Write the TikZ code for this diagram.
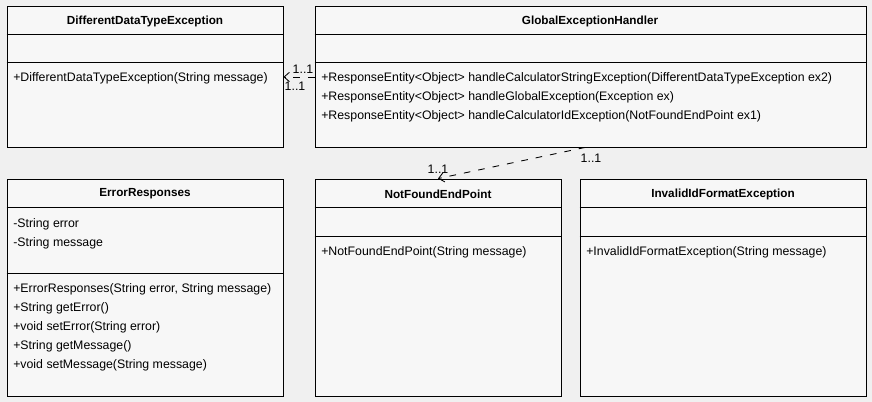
\documentclass[tikz,border=0pt]{standalone}
\usepackage{fontspec}
\setmainfont{Liberation Sans}
\usetikzlibrary{arrows.meta,fit}
\definecolor{bgc}{HTML}{F0F0F0}
\definecolor{boxc}{HTML}{F7F7F7}
\tikzset{
  classbox/.style={draw=black, fill=boxc, line width=0.65pt, inner sep=0pt},
  sepline/.style={draw=black, line width=0.65pt},
  ctitle/.style={font=\fontsize{8.8}{10}\selectfont\bfseries, inner sep=0pt},
  member/.style={font=\fontsize{9.25}{11}\selectfont, anchor=west, inner sep=0pt},
  mult/.style={font=\fontsize{9.25}{11}\selectfont, inner sep=0pt},
  dep/.style={draw=black, line width=0.65pt, dash pattern=on 5pt off 6pt, -{Straight Barb[length=4pt,width=7pt]}}
}
\begin{document}
\begin{tikzpicture}[x=0.75pt,y=-0.75pt]
\fill[bgc] (0,0) rectangle (872,402);
\useasboundingbox (0,0) rectangle (872,402);

% DifferentDataTypeException
\node[classbox, fit={(7,6) (283,147)}] (dd) {};
\draw[sepline] (dd.west |- 0,34) -- (dd.east |- 0,34);
\draw[sepline] (dd.west |- 0,62) -- (dd.east |- 0,62);
\node[ctitle] (ddt) at (145,21) {DifferentDataTypeException};
\node[member] (ddm1) at (13,78) {+DifferentDataTypeException(String message)};

% GlobalExceptionHandler
\node[classbox, fit={(315,6) (866,147)}] (gh) {};
\draw[sepline] (gh.west |- 0,34) -- (gh.east |- 0,34);
\draw[sepline] (gh.west |- 0,62) -- (gh.east |- 0,62);
\node[ctitle] (ght) at (590,21) {GlobalExceptionHandler};
\node[member] (ghm1) at (321,78) {+ResponseEntity<Object> handleCalculatorStringException(DifferentDataTypeException ex2)};
\node[member] (ghm2) at (321,97) {+ResponseEntity<Object> handleGlobalException(Exception ex)};
\node[member] (ghm3) at (321,116) {+ResponseEntity<Object> handleCalculatorIdException(NotFoundEndPoint ex1)};

% ErrorResponses
\node[classbox, fit={(7,179) (283,396)}] (er) {};
\draw[sepline] (er.west |- 0,207) -- (er.east |- 0,207);
\draw[sepline] (er.west |- 0,273) -- (er.east |- 0,273);
\node[ctitle] (ert) at (145,194) {ErrorResponses};
\node[member] (era1) at (13,224) {-String error};
\node[member] (era2) at (13,243) {-String message};
\node[member] (erm1) at (13,289) {+ErrorResponses(String error, String message)};
\node[member] (erm2) at (13,308) {+String getError()};
\node[member] (erm3) at (13,327) {+void setError(String error)};
\node[member] (erm4) at (13,346) {+String getMessage()};
\node[member] (erm5) at (13,365) {+void setMessage(String message)};

% NotFoundEndPoint
\node[classbox, fit={(315,179) (561,396)}] (nf) {};
\draw[sepline] (nf.west |- 0,207) -- (nf.east |- 0,207);
\draw[sepline] (nf.west |- 0,236) -- (nf.east |- 0,236);
\node[ctitle] (nft) at (438,194) {NotFoundEndPoint};
\node[member] (nfm1) at (321,252) {+NotFoundEndPoint(String message)};

% InvalidIdFormatException
\node[classbox, fit={(580,179) (866,396)}] (inv) {};
\draw[sepline] (inv.west |- 0,207) -- (inv.east |- 0,207);
\draw[sepline] (inv.west |- 0,236) -- (inv.east |- 0,236);
\node[ctitle] (invt) at (723,194) {InvalidIdFormatException};
\node[member] (invm1) at (586,252) {+InvalidIdFormatException(String message)};

% connectors
\draw[dep] (gh.west |- 0,77) -- (dd.east |- 0,77);
\node[mult] (l1a) at (303,69) {1..1};
\node[mult] (l1b) at (295,86) {1..1};

\draw[dep] ([xshift=-4pt]gh.south) -- (nf.north);
\node[mult] (l2a) at (438,169) {1..1};
\node[mult] (l2b) at (591,158) {1..1};
\end{tikzpicture}
\end{document}
